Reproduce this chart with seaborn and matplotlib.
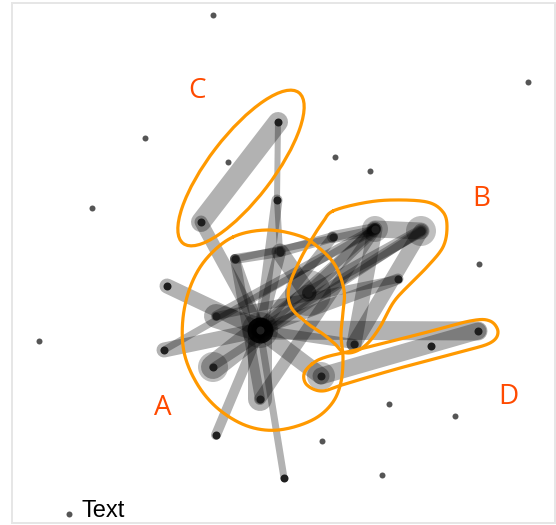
import numpy as np
import pandas as pd
import matplotlib
matplotlib.use("Agg")
import matplotlib.pyplot as plt
from matplotlib.patches import Rectangle, Ellipse
import seaborn as sns

# ------------------------------------------------------------------
# Node positions (pixel space of the original picture, y down)
# ------------------------------------------------------------------
node_names = ["hub", "c1", "c2", "c3", "a1", "a2", "b0", "b1", "b2", "b3",
              "b4", "b5", "d1", "d2", "d3", "l1", "l2", "l3", "l4", "l5",
              "l6", "l7"]
node_x = [260, 278, 201, 277, 235, 280, 333, 375, 421, 398,
          308, 354, 321, 431, 478, 167, 216, 164, 213, 260,
          216, 284]
node_y = [330, 122, 222, 200, 259, 252, 237, 229, 231, 279,
          293, 344, 376, 346, 331, 286, 316, 350, 367, 399,
          435, 478]

# isolated nodes
lone_x = [213, 528, 145, 92, 335, 370, 228, 479, 39, 389, 455, 322, 382]
lone_y = [15, 82, 138, 208, 157, 171, 162, 264, 341, 404, 416, 441, 475]

# edges: source, target, width (px)
edge_src = ["c1", "c1", "c3", "c3", "c2", "l1", "l3", "l4", "l2", "l5",
            "l6", "l7", "a1", "a2", "a1", "a1", "b4", "b4", "b0", "b1",
            "b2", "b3", "b1", "b0", "a2", "b4", "b4", "b5", "b5", "b5",
            "l2", "l5", "d3", "d1", "d1", "a1", "l4", "l3", "b3"]
edge_dst = ["c2", "c3", "a2", "hub", "hub", "hub", "hub", "hub", "hub", "hub",
            "hub", "hub", "hub", "hub", "a2", "l5", "hub", "a2", "hub", "hub",
            "hub", "hub", "b2", "b1", "b0", "b1", "b2", "b1", "b2", "hub",
            "b1", "b1", "hub", "hub", "d3", "b1", "b2", "b1", "l2"]
edge_w = [20, 6, 6, 11, 13, 15, 15, 24, 24, 24,
          10, 7, 10, 12, 10, 10, 17, 17, 10, 10,
          10, 11, 17, 12, 10, 12, 12, 15, 15, 10,
          10, 12, 19, 17, 17, 7, 8, 7, 8]

# halos on some nodes
halo_nodes = ["b4", "b2", "b1", "d1", "hub", "l4"]
halo_size = [46, 30, 26, 28, 36, 30]

# group outlines (control points)
hull_a_x = [233, 267, 300, 318, 335, 344, 343, 341, 343, 341, 333, 316,
            290, 265, 240, 215, 196, 184, 183, 191, 207]
hull_a_y = [237, 230, 236, 247, 265, 290, 312, 335, 358, 382, 402, 418,
            428, 430, 423, 406, 382, 352, 318, 285, 258]
hull_b_x = [333, 363, 392, 427, 443, 447, 443, 427, 407, 393, 380, 367,
            354, 343, 335, 323, 307, 291, 289, 300, 313, 323]
hull_b_y = [211, 203, 200, 202, 212, 227, 247, 267, 287, 303, 327, 344,
            352, 352, 344, 334, 323, 307, 287, 260, 237, 222]
hull_d_x = [312, 326, 360, 420, 470, 490, 498, 490, 460, 400, 345, 322,
            307, 304]
hull_d_y = [364, 357, 349, 334, 321, 321, 332, 343, 352, 368, 384, 391,
            385, 374]
# group C is a plain ellipse: centre, full length, full width, angle
hull_c = (241, 168, 190, 64, -52.5)

group_labels = ["A", "B", "C", "D"]
label_x = [163, 481, 197, 508]
label_y = [408, 199, 91, 397]

# ------------------------------------------------------------------
def smooth_closed(xs, ys, n=20):
    # periodic Catmull-Rom through the control points
    p = np.column_stack([xs, ys]).astype(float)
    m = len(p)
    out = []
    for i in range(m):
        p0, p1, p2, p3 = p[i - 1], p[i], p[(i + 1) % m], p[(i + 2) % m]
        t = np.linspace(0, 1, n, endpoint=False)[:, None]
        seg = 0.5 * ((2 * p1) + (-p0 + p2) * t
                     + (2 * p0 - 5 * p1 + 4 * p2 - p3) * t ** 2
                     + (-p0 + 3 * p1 - 3 * p2 + p3) * t ** 3)
        out.append(seg)
    out = np.vstack(out + [out[0][:1]])
    return out[:, 0], out[:, 1]


px = 0.72  # pixels -> points at dpi 100

sns.set_theme(style="white")
fig = plt.figure(figsize=(5.56, 5.25), dpi=100)
ax = fig.add_axes([0, 0, 1, 1])
ax.set_xlim(0, 556)
ax.set_ylim(525, 0)
ax.axis("off")

ax.add_patch(Rectangle((12, 3), 543, 520, fill=False, edgecolor="#e6e6e6",
                       lw=2 * px, zorder=0))

pos = dict(zip(node_names, zip(node_x, node_y)))

# edges
for s, d, w in zip(edge_src, edge_dst, edge_w):
    (x0, y0), (x1, y1) = pos[s], pos[d]
    ax.plot([x0, x1], [y0, y1], color="black", alpha=0.3, lw=w * px,
            solid_capstyle="round", zorder=1)

# halos
halo_df = pd.DataFrame({"x": [pos[n][0] for n in halo_nodes],
                        "y": [pos[n][1] for n in halo_nodes],
                        "s": [(d * px) ** 2 for d in halo_size]})
ax.scatter(halo_df["x"], halo_df["y"], s=halo_df["s"], color="black",
           alpha=0.25, linewidths=0, zorder=2)
ax.scatter([pos["hub"][0]], [pos["hub"][1]], s=(26 * px) ** 2, color="black",
           alpha=0.85, linewidths=0, zorder=3)

# nodes
nodes_df = pd.DataFrame({"x": node_x, "y": node_y})
sns.scatterplot(data=nodes_df, x="x", y="y", ax=ax, s=(8 * px) ** 2,
                color="#1e1e1e", linewidth=0, zorder=4, legend=False)
lone_df = pd.DataFrame({"x": lone_x, "y": lone_y})
sns.scatterplot(data=lone_df, x="x", y="y", ax=ax, s=(6 * px) ** 2,
                color="#555555", linewidth=0, zorder=4, legend=False)

# hulls
for hx, hy in [(hull_a_x, hull_a_y), (hull_b_x, hull_b_y),
               (hull_d_x, hull_d_y)]:
    sx, sy = smooth_closed(hx, hy)
    ax.plot(sx, sy, color="#ff9900", lw=3.2 * px, zorder=5)
cx, cy, cw, ch, ca = hull_c
ax.add_patch(Ellipse((cx, cy), cw, ch, angle=ca, fill=False,
                     edgecolor="#ff9900", lw=3.2 * px, zorder=5))

for lab, lx, ly in zip(group_labels, label_x, label_y):
    ax.text(lx, ly, lab, color="#ff4a00", fontsize=20, family="Open Sans",
            ha="center", va="center", zorder=6)

# legend-like text at the bottom
ax.scatter([69], [514], s=(6 * px) ** 2, color="#555555", linewidths=0,
           zorder=4)
ax.text(82, 517, "Text", color="black", fontsize=17, family="Liberation Sans",
        ha="left", va="baseline")

ax.set_xlabel("")
ax.set_ylabel("")
fig.savefig("out.png", dpi=100)
